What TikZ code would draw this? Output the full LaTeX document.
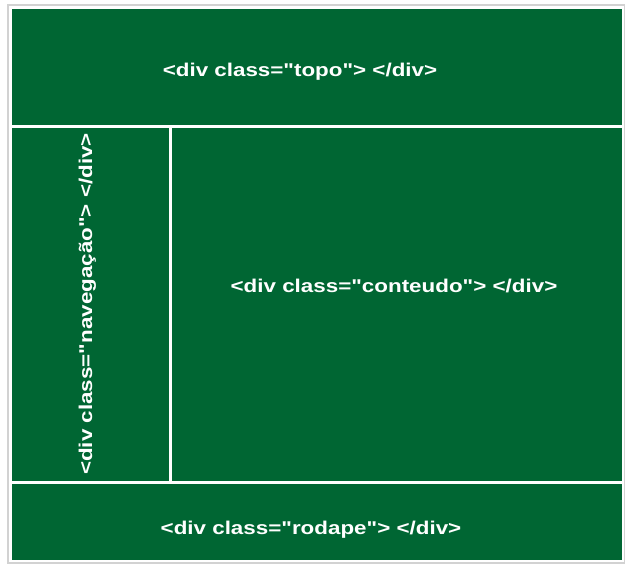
\documentclass[tikz,border=0pt]{standalone}
\usepackage{fontspec}
\setmainfont{Liberation Sans}
\definecolor{divgreen}{HTML}{006633}
\definecolor{framegray}{HTML}{D2D2D2}
\tikzset{
	divlabel/.style={text=white, font=\fontsize{18.5}{22}\selectfont\bfseries, inner sep=0pt, anchor=base},
	widen/.style={xscale=1.21}
}
\newcommand{\qt}{\textquotedbl}

\begin{document}
\begin{tikzpicture}[x=1pt, y=-1pt]
	\useasboundingbox (0,0) rectangle (633,574);
	
	% outer frame
	\draw[framegray, line width=1.5pt] (8,5) rectangle (624.5,563);
	% green page
	\fill[divgreen] (11.5,9) rectangle (621.5,559.5);
	
	% white borders between the divs
	\draw[white, line width=3pt] (11.5,126) -- (621.5,126);
	\draw[white, line width=3pt] (170,126) -- (170,482);
	\draw[white, line width=3pt] (11.5,482) -- (621.5,482);
	
	% labels
	\node[divlabel, widen] (topo) at (300,76.5) {<div class=\qt topo\qt> </div>};
	\node[divlabel, widen] (conteudo) at (394,292) {<div class=\qt conteudo\qt> </div>};
	\node[divlabel, widen] (rodape) at (311,534) {<div class=\qt rodape\qt> </div>};
	\node[divlabel, rotate=90, widen] (navegacao) at (92,304) {<div class=\qt navegação\qt> </div>};
	
\end{tikzpicture}
\end{document}
